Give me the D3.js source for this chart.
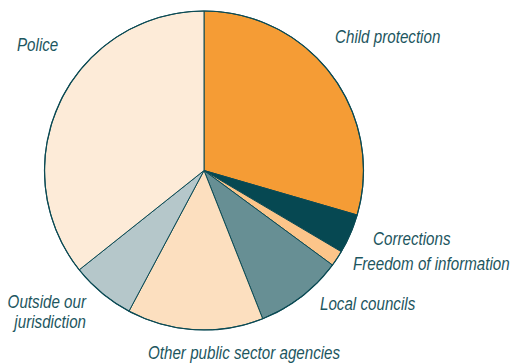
<!DOCTYPE html>
<html>
<head>
<meta charset="utf-8">
<script src="https://cdn.jsdelivr.net/npm/d3@7"></script>
<style>
  html, body { margin: 0; padding: 0; background: #ffffff; }
  svg { display: block; }
  .lbl { font-family: "Liberation Sans", Arial, sans-serif; font-style: italic; font-size: 18.5px; fill: #1d5660; }
</style>
</head>
<body>
<svg id="chart" width="512" height="363"></svg>
<script>
// Complaint sources, share of total (%), clockwise from 12 o'clock
const categories = [
  "Child protection",
  "Corrections",
  "Freedom of information",
  "Local councils",
  "Other public sector agencies",
  "Outside our jurisdiction",
  "Police"
];
const shares = [29.5, 4.0, 1.6, 8.9, 13.8, 6.5, 35.7];
const colours = ["#f59c35", "#064852", "#fcc58a", "#678f94", "#fcdfbf", "#b5c7ca", "#fdebd8"];

// Label placement: lines of text, anchor and baseline position
const labelLines = [
  ["Child protection"],
  ["Corrections"],
  ["Freedom of information"],
  ["Local councils"],
  ["Other public sector agencies"],
  ["Outside our", "jurisdiction"],
  ["Police"]
];
const labelPos = [
  { x: 335, y: 43, anchor: "start" },
  { x: 373, y: 245, anchor: "start" },
  { x: 353, y: 270, anchor: "start" },
  { x: 320, y: 310, anchor: "start" },
  { x: 148, y: 359, anchor: "start" },
  { x: 86, y: 308, anchor: "end" },
  { x: 17, y: 51, anchor: "start" }
];
// condensed lettering: narrow the regular face horizontally
const condense = 0.82;

const svg = d3.select("#chart");
const cx = 204, cy = 170.5, radius = 159.5;

const pie = d3.pie().sort(null).value(d => d.value);
const arc = d3.arc().innerRadius(0).outerRadius(radius);

const data = categories.map((c, i) => ({ name: c, value: shares[i], colour: colours[i] }));

const g = svg.append("g").attr("transform", `translate(${cx},${cy})`);

g.selectAll("path.slice")
  .data(pie(data))
  .join("path")
  .attr("class", "slice")
  .attr("d", arc)
  .attr("fill", d => d.data.colour)
  .attr("stroke", "#0b4a54")
  .attr("stroke-width", 1)
  .attr("stroke-linejoin", "round");

g.append("circle")
  .attr("r", radius)
  .attr("fill", "none")
  .attr("stroke", "#0b4a54")
  .attr("stroke-width", 1.2);

const lbl = svg.selectAll("text.lbl")
  .data(categories)
  .join("text")
  .attr("class", "lbl")
  .attr("transform", (d, i) => `translate(${labelPos[i].x},${labelPos[i].y}) scale(${condense},1)`)
  .attr("text-anchor", (d, i) => labelPos[i].anchor);

lbl.each(function(d, i) {
  const t = d3.select(this);
  labelLines[i].forEach((line, j) => {
    t.append("tspan")
      .attr("x", 0)
      .attr("dy", j === 0 ? 0 : 20)
      .text(line);
  });
});
</script>
</body>
</html>
